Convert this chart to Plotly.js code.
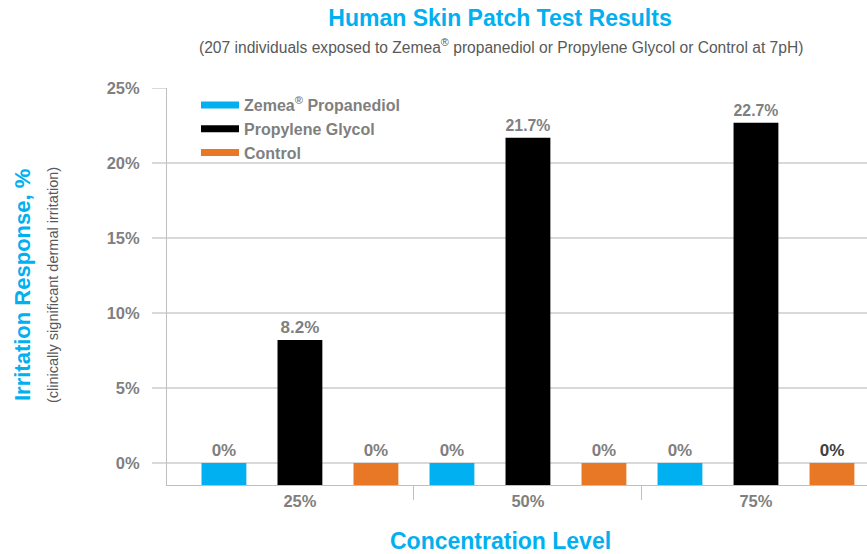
<!DOCTYPE html>
<html>
<head>
<meta charset="utf-8">
<script src="https://cdn.plot.ly/plotly-3.0.1.min.js"></script>
<style>html,body{margin:0;padding:0;background:#fff;}#chart{width:867px;height:554px;}</style>
</head>
<body>
<div id="chart"></div>
<script>
// ---- data ----
const categories = ['25%', '50%', '75%'];
const seriesNames = ['Zemea<sup>®</sup> Propanediol', 'Propylene Glycol', 'Control'];
const zemeaValues = [0, 0, 0];
const propyleneValues = [8.2, 21.7, 22.7];
const controlValues = [0, 0, 0];
const yTickVals = [0, 5, 10, 15, 20, 25];
const yTickText = ['0%', '5%', '10%', '15%', '20%', '25%'];

// ---- layout constants ----
const W = 867, H = 554;
const L = 167, R = 0, T = 88, B = 69;
const plotW = W - L - R, plotH = H - T - B;
const yMin = -1.467, yMax = 25.02;
const xMin = -0.583, xMax = 2.487;
const px = v => (v - L) / plotW;          // pixel x -> paper
const py = v => (H - B - v) / plotH;      // pixel y -> paper

const FONT = 'Arial, "Liberation Sans", sans-serif';
const GRAY = '#7f7f7f';
const BLUE = '#00b0f0';
const colors = ['#00b0f0', '#000000', '#e87726'];
const series = [zemeaValues, propyleneValues, controlValues];

// bars start below the 0% line (at the bottom of the axis), as in the reference
const traces = series.map((vals, i) => ({
  type: 'bar',
  x: categories,
  y: vals.map(v => v - yMin),
  base: yMin,
  name: seriesNames[i],
  marker: {color: colors[i], line: {width: 0}},
  text: vals.map(v => v + '%'),
  textposition: 'outside',
  textfont: {family: FONT, size: 17, color: (i === 2 ? [GRAY, GRAY, '#404040'] : GRAY), weight: 'bold'},
  cliponaxis: false,
  showlegend: false,
  hoverinfo: 'skip'
}));

// legend-only line traces for the wide flat legend swatches
seriesNames.forEach((n, i) => {
  traces.push({
    type: 'scatter', mode: 'lines', x: [null], y: [null],
    name: n, line: {color: colors[i], width: 7}, showlegend: true, hoverinfo: 'skip'
  });
});

// empty trace so the divider-tick axis is drawn
traces.push({type: 'scatter', mode: 'markers', x: [null], y: [null], xaxis: 'x2', yaxis: 'y',
  showlegend: false, hoverinfo: 'skip'});

const layout = {
  width: W, height: H,
  margin: {l: L, r: R, t: T, b: B, pad: 0},
  paper_bgcolor: '#ffffff', plot_bgcolor: '#ffffff',
  font: {family: FONT, color: GRAY},
  barmode: 'group', bargap: 0, bargroupgap: 0.41,
  title: {
    text: '<b>Human Skin Patch Test Results</b>',
    font: {family: FONT, size: 23, color: BLUE},
    xref: 'container', yref: 'container',
    x: 500 / W, y: 1 - 18 / H, xanchor: 'center', yanchor: 'middle'
  },
  xaxis: {
    type: 'category', range: [xMin, xMax],
    showgrid: false, zeroline: false,
    showline: true, linecolor: '#bfbfbf', linewidth: 1,
    ticks: '', ticklabelstandoff: 1,
    tickfont: {family: FONT, size: 16.5, color: GRAY, weight: 'bold'},
    fixedrange: true
  },
  xaxis2: {
    type: 'linear', overlaying: 'x', anchor: 'y', side: 'bottom',
    range: [xMin, xMax],
    tickmode: 'array', tickvals: [0.5, 1.5],
    ticks: 'outside', ticklen: 14, tickcolor: '#bfbfbf', tickwidth: 1,
    showticklabels: false, showgrid: false, zeroline: false, showline: false
  },
  yaxis: {
    range: [yMin, yMax],
    tickmode: 'array', tickvals: yTickVals, ticktext: yTickText,
    showgrid: true, gridcolor: '#d9d9d9', gridwidth: 1.5,
    zeroline: false,
    showline: true, linecolor: '#bfbfbf', linewidth: 1,
    ticks: 'outside', ticklen: 14, tickcolor: '#d9d9d9', tickwidth: 1.5,
    ticklabelstandoff: 9,
    tickfont: {family: FONT, size: 16.5, color: GRAY, weight: 'bold'},
    fixedrange: true
  },
  legend: {
    x: px(196), y: py(88), xanchor: 'left', yanchor: 'top',
    bgcolor: 'rgba(0,0,0,0)', borderwidth: 0,
    font: {family: FONT, size: 16, color: GRAY, weight: 'bold'},
    tracegroupgap: 0, itemwidth: 38
  },
  annotations: [
    {
      text: '(207 individuals exposed to Zemea<sup>®</sup> propanediol or Propylene Glycol or Control at 7pH)',
      xref: 'paper', yref: 'paper', x: px(501), y: py(46),
      xanchor: 'center', yanchor: 'middle', showarrow: false,
      font: {family: FONT, size: 15.6, color: '#595959'}
    },
    {
      text: '<b>Irritation Response, %</b>',
      xref: 'paper', yref: 'paper', x: px(22), y: py(285),
      xanchor: 'center', yanchor: 'middle', textangle: -90, showarrow: false,
      font: {family: FONT, size: 22, color: BLUE}
    },
    {
      text: '(clinically significant dermal irritation)',
      xref: 'paper', yref: 'paper', x: px(53), y: py(285),
      xanchor: 'center', yanchor: 'middle', textangle: -90, showarrow: false,
      font: {family: FONT, size: 14.5, color: '#595959'}
    },
    {
      text: '<b>Concentration Level</b>',
      xref: 'paper', yref: 'paper', x: px(500), y: py(541),
      xanchor: 'center', yanchor: 'middle', showarrow: false,
      font: {family: FONT, size: 23, color: BLUE}
    }
  ]
};

Plotly.newPlot('chart', traces, layout, {displayModeBar: false, staticPlot: true});
</script>
</body>
</html>
